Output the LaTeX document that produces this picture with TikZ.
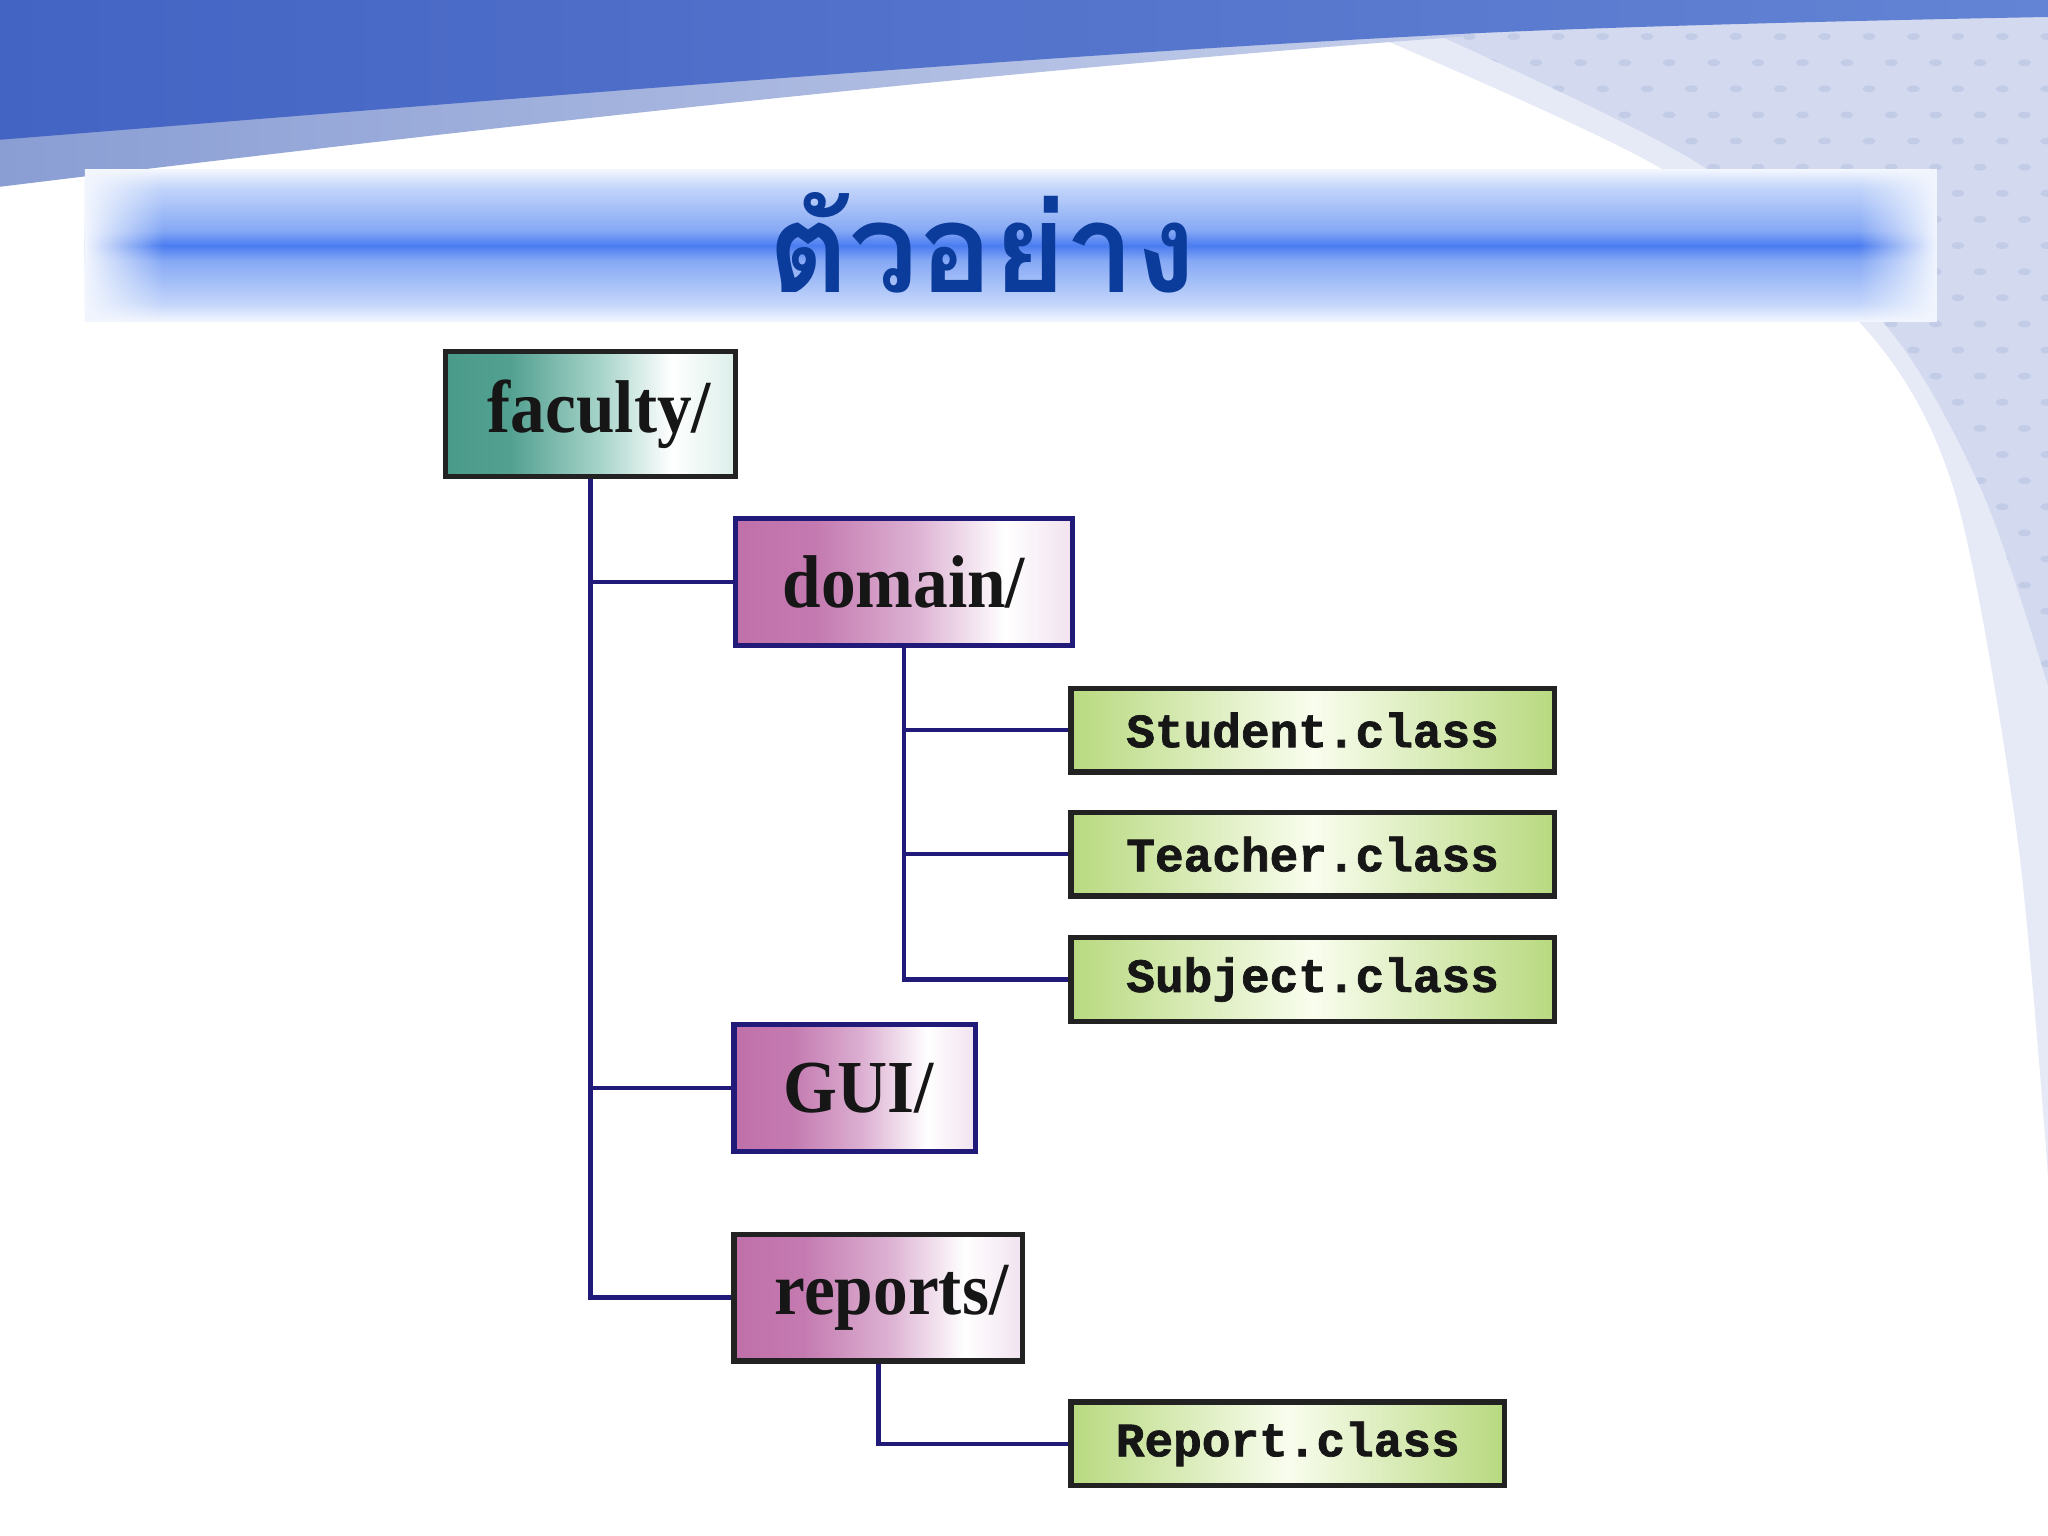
\documentclass[tikz,border=0pt]{standalone}
\usepackage{fontspec}
\usepackage{graphicx}
\setmainfont{Liberation Serif}
\newfontfamily\thaifont[Script=Thai]{Loma}
\newfontfamily\codefont[FakeBold=1.5]{Liberation Mono}
\usetikzlibrary{fadings}
\definecolor{bandL}{HTML}{4464C4}
\definecolor{bandR}{HTML}{6383D4}
\definecolor{stripL}{HTML}{8A9ED4}
\definecolor{stripR}{HTML}{C4CEEA}
\definecolor{bgpale}{HTML}{E6EAF6}
\definecolor{bgdot}{HTML}{D3DAEF}
\definecolor{dotc}{HTML}{C3CCE7}
\definecolor{bnA}{HTML}{F2F6FE}
\definecolor{bnB}{HTML}{C2D4FA}
\definecolor{bnC}{HTML}{86A9F5}
\definecolor{bnD}{HTML}{4A7CF0}
\definecolor{titlec}{HTML}{0B3C9C}
\definecolor{navy}{HTML}{221A78}
\definecolor{edgec}{HTML}{222222}
\definecolor{txt}{HTML}{161616}
\definecolor{tlA}{HTML}{4A9A8A}
\definecolor{tlB}{HTML}{52A090}
\definecolor{tlC}{HTML}{A9D5CB}
\definecolor{tlD}{HTML}{DCEFEA}
\definecolor{pkA}{HTML}{C070A9}
\definecolor{pkB}{HTML}{C47AB0}
\definecolor{pkC}{HTML}{DDB2D3}
\definecolor{pkD}{HTML}{F1E2EF}
\definecolor{gnA}{HTML}{B8D97F}
\definecolor{gnB}{HTML}{F9FDEE}
\pgfdeclareverticalshading{bannershade}{100bp}{color(0bp)=(bnA); color(25bp)=(bnA); color(31bp)=(bnB); color(45bp)=(bnC); color(50bp)=(bnD); color(55bp)=(bnC); color(69bp)=(bnB); color(75bp)=(bnA); color(100bp)=(bnA)}
\pgfdeclarehorizontalshading{tealshade}{100bp}{color(0bp)=(tlA); color(25bp)=(tlA); color(36bp)=(tlB); color(52bp)=(tlC); color(64bp)=(white); color(75bp)=(tlD); color(100bp)=(tlD)}
\pgfdeclarehorizontalshading{pinkshade}{100bp}{color(0bp)=(pkA); color(25bp)=(pkA); color(37bp)=(pkB); color(52bp)=(pkC); color(65bp)=(white); color(75bp)=(pkD); color(100bp)=(pkD)}
\pgfdeclarehorizontalshading{greenshade}{100bp}{color(0bp)=(gnA); color(25bp)=(gnA); color(50bp)=(gnB); color(75bp)=(gnA); color(100bp)=(gnA)}
\tikzfading[name=fadetoright, left color=transparent!0, right color=transparent!100]
\tikzfading[name=fadetoleft, left color=transparent!100, right color=transparent!0]
\newcommand\dirlabel[1]{\scalebox{1.02}[1.1]{\fontsize{14.8}{16}\selectfont\bfseries #1}}
\newcommand\classlabel[1]{{\codefont\bfseries\fontsize{10.4}{12}\selectfont #1}}
\begin{document}
\begin{tikzpicture}[x=0.01cm,y=-0.01cm,
  box/.style={rectangle, inner sep=0pt, line width=1.15pt, text=txt},
  tealbox/.style={box, draw=edgec, shading=tealshade, minimum width=2.22cm, minimum height=0.96cm},
  pinkbox/.style={box, shading=pinkshade, minimum height=0.97cm},
  greenbox/.style={box, draw=edgec, shading=greenshade, minimum height=0.64cm},
  conn/.style={draw=navy, line width=0.95pt}]
\useasboundingbox (0,0) rectangle (1568,1176);
% background
\fill[white] (0,0) rectangle (1568,1176);
\fill[bgpale] plot[smooth] coordinates {(1040,22) (1270,128) (1424,247) (1496,375) (1544,637) (1568,900)} -- (1568,0) -- cycle;
\begin{scope}
\clip plot[smooth] coordinates {(1090,22) (1300,125) (1442,247) (1517,375) (1568,525)} -- (1568,0) -- cycle;
\fill[bgdot] (1000,0) rectangle (1568,600);
\foreach \r in {0,...,30}{
  \foreach \c in {0,...,16}{
    \pgfmathsetmacro\xx{1040+34*\c+mod(\r,2)*17}
    \fill[dotc] (\xx,{8+20*\r}) ellipse [x radius=5, y radius=2.6];
  }
}
\end{scope}
\shade[left color=stripL, right color=stripR] (0,0) -- (1120,0) -- (1120,28) .. controls (750,55) and (350,100) .. (0,143) -- cycle;
\shade[left color=bandL, right color=bandR] (0,0) -- (1568,0) -- (1568,13) .. controls (1300,18) and (1150,24) .. (1100,27) .. controls (800,42) and (400,75) .. (0,107) -- cycle;
% title banner
\shade[shading=bannershade] (65,130) rectangle (1483,246);
\fill[bnA, path fading=fadetoright] (65,130) rectangle (125,246);
\fill[bnA, path fading=fadetoleft] (1423,130) rectangle (1483,246);
\node (title) at (752,186) {\thaifont\bfseries\fontsize{27}{30}\selectfont\color{titlec}ตัวอย่าง};
% nodes
\node[tealbox] (faculty) at (452,317) {\hspace*{0.14cm}\dirlabel{faculty/}};
\node[pinkbox, draw=navy, minimum width=2.58cm] (domain) at (692,445.5) {\dirlabel{domain/}};
\node[greenbox, minimum width=3.70cm] (student) at (1005,559) {\classlabel{Student.class}};
\node[greenbox, minimum width=3.70cm] (teacher) at (1005,654) {\classlabel{Teacher.class}};
\node[greenbox, minimum width=3.70cm] (subject) at (1005,750) {\classlabel{Subject.class}};
\node[pinkbox, draw=navy, minimum width=1.85cm] (gui) at (654.5,833) {\hspace*{0.06cm}\dirlabel{GUI/}};
\node[pinkbox, draw=edgec, minimum width=2.21cm] (reports) at (672.5,993.5) {\hspace*{0.2cm}\dirlabel{reports/}};
\node[greenbox, minimum width=3.32cm] (report) at (986,1105.5) {\classlabel{Report.class}};
% connectors
\draw[conn] (faculty.south) |- (reports.west);
\draw[conn] (faculty.south |- domain.west) -- (domain.west);
\draw[conn] (faculty.south |- gui.west) -- (gui.west);
\draw[conn] (domain.south) |- (subject.west);
\draw[conn] (domain.south |- student.west) -- (student.west);
\draw[conn] (domain.south |- teacher.west) -- (teacher.west);
\draw[conn] (reports.south) |- (report.west);
\end{tikzpicture}
\end{document}
